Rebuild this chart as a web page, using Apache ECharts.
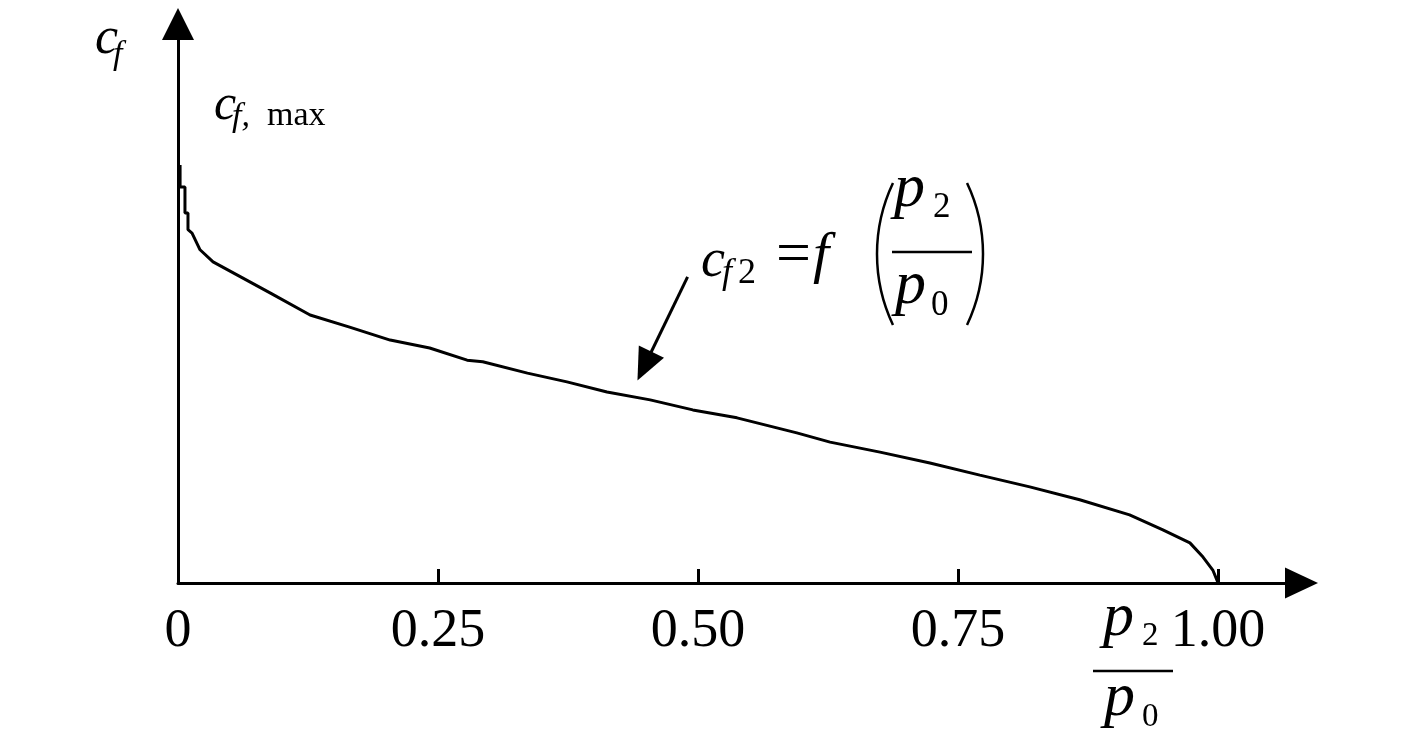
<!DOCTYPE html>
<html>
<head>
<meta charset="utf-8">
<script src="https://cdn.jsdelivr.net/npm/echarts@6/dist/echarts.min.js"></script>
<style>
  html, body { margin: 0; padding: 0; background: #fff; }
  #main { width: 1417px; height: 737px; }
</style>
</head>
<body>
<div id="main"></div>
<script>
// p2/p0 ratio and friction coefficient cf (relative, cf,max = 1)
const ratio = [0.002, 0.002, 0.0067, 0.0067, 0.0096, 0.0096, 0.0135, 0.0212, 0.0337, 0.0567,
  0.0885, 0.127, 0.165, 0.204, 0.242, 0.278, 0.293, 0.336, 0.374, 0.4125,
  0.454, 0.495, 0.5375, 0.595, 0.627, 0.675, 0.723, 0.771, 0.819, 0.867,
  0.915, 0.947, 0.973, 0.9856, 0.995, 0.999, 1.0];
const cf = [1.0, 0.947, 0.947, 0.885, 0.885, 0.845, 0.837, 0.797, 0.768, 0.737,
  0.694, 0.641, 0.612, 0.581, 0.562, 0.533, 0.529, 0.502, 0.481, 0.457,
  0.438, 0.414, 0.395, 0.359, 0.337, 0.313, 0.287, 0.258, 0.230, 0.199,
  0.163, 0.127, 0.096, 0.062, 0.031, 0.007, 0.0];
const xTicks = [0, 0.25, 0.5, 0.75, 1.0];
// annotation arrow (start, head centre) in data units
const arrowFrom = [0.490, 0.732];
const arrowTo = [0.4485, 0.519];

const serif = "'Liberation Serif', 'DejaVu Serif', serif";

// place a text piece by its baseline
function txt(x, base, str, size, italic) {
  return {
    type: 'text',
    x: x,
    y: base - 0.34 * size,
    silent: true,
    style: {
      text: str,
      font: (italic ? 'italic ' : '') + size + 'px ' + serif,
      fill: '#000',
      textAlign: 'left',
      textVerticalAlign: 'middle'
    }
  };
}
function hline(x1, x2, y) {
  return { type: 'line', silent: true, shape: { x1: x1, y1: y, x2: x2, y2: y },
    style: { stroke: '#000', lineWidth: 2.5 } };
}
function paren(cx, cy, r, a0, a1) {
  return { type: 'arc', silent: true, shape: { cx: cx, cy: cy, r: r, startAngle: a0, endAngle: a1 },
    style: { stroke: '#000', lineWidth: 2.5, fill: null } };
}

const chart = echarts.init(document.getElementById('main'));
const data = ratio.map((r, i) => [r, cf[i]]);

chart.setOption({
  animation: false,
  backgroundColor: '#fff',
  grid: { left: 178, right: 115.5, top: 24, bottom: 154 },
  xAxis: {
    type: 'value',
    min: 0,
    max: 1.0803,
    interval: 0.25,
    splitLine: { show: false },
    axisLine: {
      onZero: false,
      symbol: ['none', 'triangle'],
      symbolSize: [31, 33],
      lineStyle: { color: '#000', width: 3 }
    },
    axisTick: {
      show: true,
      inside: true,
      length: 14,
      customValues: xTicks,
      lineStyle: { color: '#000', width: 3 }
    },
    axisLabel: {
      customValues: xTicks,
      margin: 22,
      color: '#000',
      fontFamily: serif,
      fontSize: 54,
      formatter: v => (v === 0 ? '0' : v.toFixed(2))
    }
  },
  yAxis: {
    type: 'value',
    min: 0,
    max: 1.337,
    splitLine: { show: false },
    axisTick: { show: false },
    axisLabel: { show: false },
    axisLine: {
      show: true,
      symbol: ['none', 'triangle'],
      symbolSize: [32, 32],
      lineStyle: { color: '#000', width: 3 }
    }
  },
  series: [{
    type: 'line',
    data: data,
    showSymbol: false,
    lineStyle: { color: '#000', width: 3 },
    markLine: {
      silent: true,
      symbol: ['none', 'triangle'],
      symbolSize: [28, 32],
      label: { show: false },
      lineStyle: { color: '#000', width: 3, type: 'solid' },
      data: [[{ coord: arrowFrom }, { coord: arrowTo }]]
    }
  }],
  graphic: [
    // y axis name
    txt(95, 57, 'c', 52, true),
    txt(113, 67, 'f', 34, true),
    // cf,max
    txt(214, 123, 'c', 50, true),
    txt(232, 129, 'f,', 34, true),
    txt(267, 128, 'max', 34, false),
    // cf2 = f (p2/p0)
    txt(701, 280, 'c', 54, true),
    txt(722, 286, 'f', 36, true),
    txt(738, 286, '2', 36, false),
    txt(776, 278, '=', 62, false),
    txt(813, 276, 'f', 58, true),
    paren(1042.5, 254, 165.5, Math.PI - 0.443, Math.PI + 0.443),
    paren(817.5, 254, 165.5, -0.443, 0.443),
    txt(894, 211, 'p', 62, true),
    txt(933, 220, '2', 35, false),
    hline(892, 972, 252),
    txt(895, 308, 'p', 62, true),
    txt(931, 318, '0', 35, false),
    // x axis name p2/p0
    txt(1103, 640, 'p', 62, true),
    txt(1142, 648, '2', 33, false),
    hline(1093, 1173, 671),
    txt(1104, 720, 'p', 62, true),
    txt(1142, 729, '0', 33, false)
  ]
});
</script>
</body>
</html>
